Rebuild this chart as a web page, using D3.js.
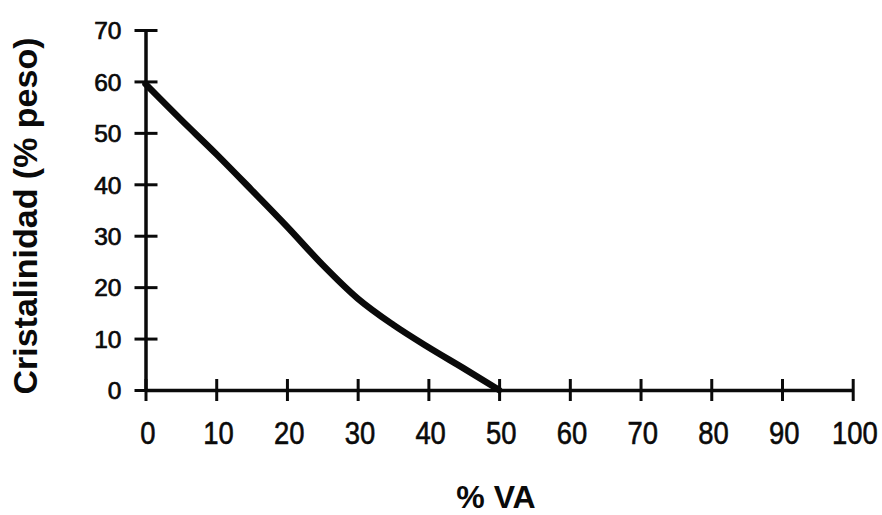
<!DOCTYPE html>
<html>
<head>
<meta charset="utf-8">
<script src="https://cdn.jsdelivr.net/npm/d3@7/dist/d3.min.js"></script>
<style>
  html, body { margin: 0; padding: 0; background: #fff; }
  svg { display: block; }
</style>
</head>
<body>
<svg id="chart" width="882" height="515"></svg>
<script>
// Crystallinity (% weight) as a function of VA content (%)
const vaPercent     = [0, 5, 10, 15, 20, 25, 30, 35, 40, 45, 50];
const crystallinity = [59.5, 52.6, 45.9, 38.9, 31.8, 24.4, 17.8, 12.7, 8.3, 4.2, 0];
const xTicks = [0, 10, 20, 30, 40, 50, 60, 70, 80, 90, 100];
const yTicks = [0, 10, 20, 30, 40, 50, 60, 70];
const xTitle = "% VA";
const yTitle = "Cristalinidad (% peso)";

const svg = d3.select("#chart");
const ink = "#0a0a0a";

const x = d3.scaleLinear().domain([0, 100]).range([145.5, 852.7]);
const y = d3.scaleLinear().domain([0, 70]).range([390, 30]);

// x axis: ticks cross the line on both sides
const gx = svg.append("g")
  .attr("transform", `translate(0,${y(0)})`)
  .call(d3.axisBottom(x).tickValues(xTicks).tickSizeOuter(0).tickSizeInner(11).tickFormat(d3.format("d")));
gx.select(".domain").attr("stroke", ink).attr("stroke-width", 3.5);
gx.selectAll(".tick line").attr("y1", -11).attr("y2", 11).attr("stroke", ink).attr("stroke-width", 3);
gx.selectAll(".tick text")
  .attr("y", 54).attr("dy", 0).attr("x", 2)
  .attr("transform", "scale(0.87,1)")
  .attr("fill", ink)
  .attr("stroke", ink)
  .attr("stroke-width", 0.6)
  .style("font-family", "'Liberation Sans', Arial, sans-serif")
  .style("font-size", "31.5px");

// y axis
const gy = svg.append("g")
  .attr("transform", `translate(${x(0)},0)`)
  .call(d3.axisLeft(y).tickValues(yTicks).tickSizeOuter(0).tickSizeInner(11).tickFormat(d3.format("d")));
gy.select(".domain").attr("stroke", ink).attr("stroke-width", 3.5);
gy.selectAll(".tick line").attr("x1", -11).attr("x2", 12).attr("stroke", ink).attr("stroke-width", 3);
gy.selectAll(".tick text")
  .attr("x", -24).attr("dy", "0.36em")
  .attr("fill", ink)
  .attr("stroke", ink)
  .attr("stroke-width", 0.7)
  .style("font-family", "'Liberation Sans', Arial, sans-serif")
  .style("font-size", "24.5px");

// curve
const pts = vaPercent.map((v, i) => [v, crystallinity[i]]);
svg.append("path")
  .datum(pts)
  .attr("fill", "none")
  .attr("stroke", ink)
  .attr("stroke-width", 6.5)
  .attr("stroke-linecap", "round")
  .attr("stroke-linejoin", "round")
  .attr("d", d3.line().x(d => x(d[0])).y(d => y(d[1])).curve(d3.curveMonotoneX));

// axis titles
svg.append("text")
  .attr("x", 496).attr("y", 508)
  .attr("text-anchor", "middle")
  .attr("fill", ink)
  .style("font-family", "'Liberation Sans', Arial, sans-serif")
  .style("font-weight", "bold")
  .style("font-size", "32px")
  .text(xTitle);

svg.append("text")
  .attr("transform", "translate(37,216) rotate(-90)")
  .attr("text-anchor", "middle")
  .attr("fill", ink)
  .style("font-family", "'Liberation Sans', Arial, sans-serif")
  .style("font-weight", "bold")
  .style("font-size", "34px")
  .text(yTitle);
</script>
</body>
</html>
